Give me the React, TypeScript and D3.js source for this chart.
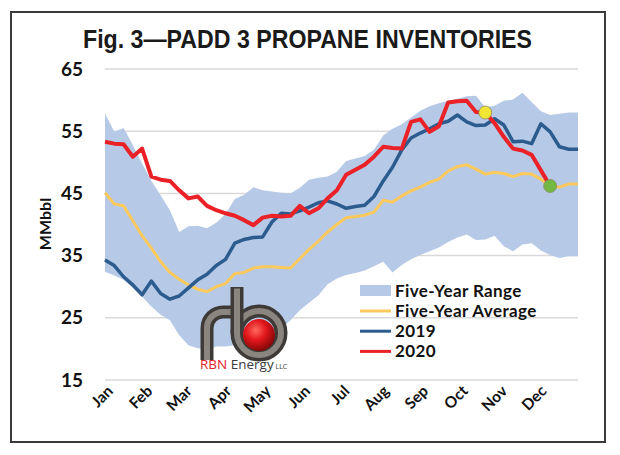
import React from "react";
import * as d3 from "d3";

const months = ["Jan", "Feb", "Mar", "Apr", "May", "Jun", "Jul", "Aug", "Sep", "Oct", "Nov", "Dec"];
const yTicks = [15, 25, 35, 45, 55, 65];

const rangeHigh = [57.9, 54.9, 55.5, 52.8, 49.8, 47.0, 44.7, 42.3, 38.8, 39.7, 39.8, 39.4, 40.3, 41.7, 44.1, 44.8, 46.0, 45.5, 45.3, 45.1, 45.0, 45.9, 47.2, 47.5, 47.7, 48.5, 50.2, 50.6, 51.0, 52.0, 54.3, 55.4, 56.1, 57.2, 58.3, 59.0, 59.5, 59.9, 60.2, 60.6, 60.7, 58.8, 59.1, 59.9, 60.1, 61.2, 59.7, 58.2, 57.6, 57.8, 58.0, 58.0];
const rangeLow = [32.4, 31.8, 31.1, 29.8, 28.4, 26.8, 25.5, 24.6, 22.2, 20.6, 20.1, 19.9, 20.4, 20.4, 20.6, 20.9, 21.1, 21.3, 21.5, 23.2, 24.6, 26.2, 27.4, 28.6, 30.4, 31.3, 31.9, 32.2, 32.6, 33.3, 34.0, 32.3, 33.5, 34.4, 35.1, 35.7, 36.3, 37.2, 37.9, 38.4, 37.5, 37.6, 38.2, 36.5, 35.7, 36.8, 37.0, 35.8, 35.1, 34.6, 34.9, 34.9];
const fiveYearAvg = [45.1, 43.3, 43.0, 40.6, 38.2, 36.2, 34.0, 32.3, 31.2, 30.3, 29.6, 29.2, 30.0, 30.5, 32.1, 32.3, 33.0, 33.2, 33.2, 33.1, 33.0, 34.5, 36.0, 37.3, 38.8, 40.0, 41.1, 41.3, 41.5, 42.0, 43.9, 43.6, 44.6, 45.4, 46.0, 46.8, 47.3, 48.6, 49.3, 49.6, 48.9, 48.1, 48.4, 48.2, 47.7, 48.2, 48.1, 47.3, 46.2, 46.0, 46.5, 46.5];
const y2019 = [34.3, 33.4, 31.6, 30.3, 28.7, 30.9, 28.9, 28.0, 28.5, 29.8, 31.1, 32.0, 33.4, 34.4, 37.0, 37.6, 37.9, 38.0, 40.4, 41.8, 41.7, 42.2, 42.8, 43.5, 43.8, 43.3, 42.6, 42.9, 43.1, 44.5, 47.0, 49.2, 52.0, 53.9, 54.7, 55.4, 56.2, 56.6, 57.6, 56.5, 55.9, 56.0, 57.0, 56.0, 53.3, 53.4, 53.0, 56.2, 54.9, 52.5, 52.1, 52.1];
const y2020 = [53.3, 53.0, 52.9, 50.9, 52.2, 47.7, 47.2, 47.0, 45.5, 44.2, 44.5, 43.0, 42.3, 41.8, 41.4, 40.7, 39.9, 41.1, 41.4, 41.3, 41.4, 43.0, 41.8, 42.6, 44.2, 45.5, 48.0, 48.8, 49.6, 50.9, 52.5, 52.3, 52.2, 56.5, 56.9, 54.9, 55.8, 59.6, 59.8, 59.9, 58.1, 58.0, 56.3, 54.1, 52.2, 51.9, 51.2, 48.7, 46.2];
const markerWeeks = [41, 48];
const markerValues = [58.0, 46.2];
const markerColors = ["#f2e533", "#72b843"];

const legendItems = ["Five-Year Range", "Five-Year Average", "2019", "2020"];

const BAND = "#b6c9e6";
const AVG = "#fdc95c";
const BLUE = "#2c5c8e";
const RED = "#ea2127";
const FONT = "Lato, 'Open Sans', sans-serif";

export default function App() {
  const x = d3.scaleLinear().domain([0, 51]).range([105, 578]);
  const y = d3.scaleLinear().domain([15, 65]).range([380, 69]);
  const idx = d3.range(rangeHigh.length);
  const area = d3
    .area<number>()
    .x((i) => x(i))
    .y0((i) => y(rangeLow[i]))
    .y1((i) => y(rangeHigh[i]));
  const line = d3
    .line<number>()
    .x((_, i) => x(i))
    .y((v) => y(v));
  const monthX = d3.scaleLinear().domain([0, 12]).range([105, 578]);

  const pipe = "#3e3a37";
  const pipeHi = "#8a857f";

  return (
    <svg width={620} height={455} style={{ position: "absolute", left: 0, top: 0, background: "#fff" }}>
      <defs>
        <radialGradient id="ball" cx="40%" cy="35%" r="70%">
          <stop offset="0%" stopColor="#ff6a5e" />
          <stop offset="45%" stopColor="#e3171c" />
          <stop offset="100%" stopColor="#7a0606" />
        </radialGradient>
      </defs>
      <rect x={0} y={0} width={620} height={455} fill="#fff" />
      <rect x={11} y={12} width={594} height={430} fill="none" stroke="#3a3a3a" strokeWidth={2} />
      <text
        x={83}
        y={48}
        textLength={449}
        lengthAdjust="spacingAndGlyphs"
        fontFamily="'Liberation Sans', Arial, sans-serif"
        fontWeight="bold"
        fontSize={26}
        fill="#1a1a1a"
      >
        Fig. 3—PADD 3 PROPANE INVENTORIES
      </text>

      {yTicks.map((t) => (
        <g key={t}>
          <line x1={105} x2={578} y1={y(t)} y2={y(t)} stroke="#d9d9d9" strokeWidth={1.5} />
          <text x={83} y={y(t) + 6.5} textAnchor="end" fontFamily={FONT} fontWeight="bold" fontSize={19} fill="#111">
            {t}
          </text>
        </g>
      ))}
      <text
        transform="translate(51,224) rotate(-90)"
        textAnchor="middle"
        fontFamily={FONT}
        fontWeight="bold"
        fontSize={16}
        fill="#111"
      >
        MMbbl
      </text>

      {months.map((m, i) => (
        <text
          key={m}
          transform={`translate(${monthX(i) + 9},${392}) rotate(-45)`}
          textAnchor="end"
          fontFamily={FONT}
          fontWeight="bold"
          fontSize={15.5}
          fill="#111"
        >
          {m}
        </text>
      ))}

      <path d={area(idx) || ""} fill={BAND} />
      <path d={line(fiveYearAvg) || ""} fill="none" stroke={AVG} strokeWidth={3} strokeLinejoin="round" />
      <path d={line(y2019) || ""} fill="none" stroke={BLUE} strokeWidth={3.5} strokeLinejoin="round" />
      <path d={line(y2020) || ""} fill="none" stroke={RED} strokeWidth={4} strokeLinejoin="round" />
      {markerWeeks.map((w, i) => (
        <circle key={w} cx={x(w)} cy={y(markerValues[i])} r={6.5} fill={markerColors[i]} stroke="#8a8a6a" strokeWidth={0.8} />
      ))}

      {/* legend */}
      <g fontFamily={FONT} fontWeight="bold" fontSize={17} letterSpacing={0.4} fill="#111">
        <rect x={360} y={285} width={31} height={11} fill={BAND} />
        {[AVG, BLUE, RED].map((c, i) => (
          <line key={c} x1={360} x2={391} y1={311 + i * 20.2} y2={311 + i * 20.2} stroke={c} strokeWidth={3} />
        ))}
        {legendItems.map((t, i) => (
          <text key={t} x={395} y={296.5 + i * 20.2}>
            {t}
          </text>
        ))}
      </g>

      {/* RBN logo */}
      <g fill="none" strokeLinecap="butt">
        <path d="M207,360 V328 A16,16 0 0 1 223,312 H237" stroke={pipe} strokeWidth={13} />
        <path d="M207,360 V328 A16,16 0 0 1 223,312 H237" stroke={pipeHi} strokeWidth={6} />
        <circle cx={259} cy={333} r={22} stroke={pipe} strokeWidth={13} />
        <circle cx={259} cy={333} r={22} stroke={pipeHi} strokeWidth={6} />
        <path d="M237,287 V333" stroke={pipe} strokeWidth={13} />
        <path d="M237,288.5 V333" stroke={pipeHi} strokeWidth={6} />
        <circle cx={259} cy={335} r={16} fill="url(#ball)" stroke="none" />
      </g>
      <text x={200} y={369} fontFamily="'Open Sans', sans-serif" fontSize={13.5}>
        <tspan fill="#e2232a">RBN</tspan>
        <tspan fill="#3a3a3a"> Energy</tspan>
        <tspan fill="#3a3a3a" fontSize={7}> LLC</tspan>
      </text>
    </svg>
  );
}
